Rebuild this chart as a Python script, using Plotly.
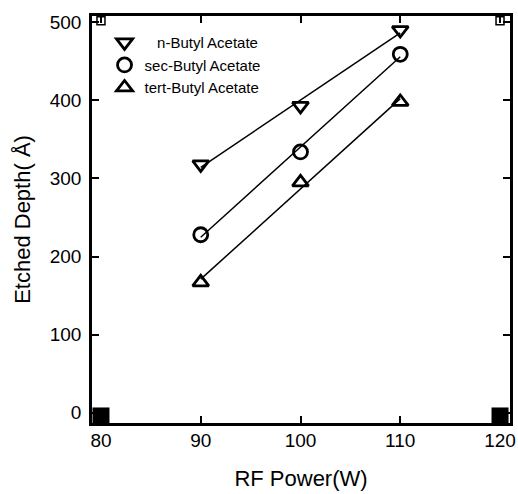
import numpy as np
import plotly.graph_objects as go

# Data
rf_power = [90, 100, 110]
n_butyl = [318, 393, 490]
sec_butyl = [228, 334, 459]
tert_butyl = [167, 295, 398]

series_names = ["   n-Butyl Acetate", "sec-Butyl Acetate", "tert-Butyl Acetate"]
series_symbols = ["triangle-down-open", "circle-open", "triangle-up-open"]

# corner markers present in the original graph
corner_x_filled = [80, 120]
corner_y_filled = [-4, -4]
corner_x_open = [80, 120]
corner_y_open = [502, 502]

x_ticks = [80, 90, 100, 110, 120]
y_ticks = [0, 100, 200, 300, 400, 500]

fig = go.Figure()

font_family = "Liberation Sans, Arial, sans-serif"

for name, vals, sym in zip(series_names, [n_butyl, sec_butyl, tert_butyl], series_symbols):
    coef = np.polyfit(rf_power, vals, 1)
    fit_x = [rf_power[0], rf_power[-1]]
    fit_y = [float(np.polyval(coef, v)) for v in fit_x]
    fig.add_trace(go.Scatter(x=fit_x, y=fit_y, mode="lines",
                             line=dict(color="black", width=1.5),
                             showlegend=False, hoverinfo="skip"))
    fig.add_trace(go.Scatter(x=rf_power, y=vals, mode="markers", name=name,
                             marker=dict(symbol=sym, size=14, color="black",
                                         line=dict(color="black", width=2.8))))

fig.add_trace(go.Scatter(x=corner_x_filled, y=corner_y_filled, mode="markers",
                         marker=dict(symbol="square", size=17, color="black"),
                         showlegend=False, hoverinfo="skip", cliponaxis=False))
fig.add_trace(go.Scatter(x=corner_x_open, y=corner_y_open, mode="markers",
                         marker=dict(symbol="square-open", size=8, color="black",
                                     line=dict(width=1.5, color="black")),
                         showlegend=False, hoverinfo="skip", cliponaxis=False))

axis_common = dict(showline=True, linecolor="black", linewidth=2.5, mirror="ticks",
                   ticks="inside", ticklen=7, tickwidth=2, tickcolor="black",
                   showgrid=False, zeroline=False, automargin=False,
                   tickfont=dict(family=font_family, size=19, color="black"))

fig.update_xaxes(range=[79.1, 121.0], tickvals=x_ticks,
                 title=dict(text="RF Power(W)", font=dict(family=font_family, size=22, color="black"),
                            standoff=22),
                 **axis_common)
fig.update_yaxes(range=[-13, 508], tickvals=y_ticks,
                 title=dict(text="Etched Depth( Å)", font=dict(family=font_family, size=22, color="black"),
                            standoff=14),
                 **axis_common)

try:
    fig.update_xaxes(ticklabelstandoff=-2, ticklabeloverflow="allow")
except Exception:
    pass
try:
    fig.update_yaxes(ticklabelstandoff=4)
except Exception:
    pass

fig.update_layout(
    width=518, height=494,
    margin=dict(l=92, r=8, t=16, b=71, autoexpand=False),
    plot_bgcolor="white", paper_bgcolor="white",
    legend=dict(x=0.03, y=0.975, xanchor="left", yanchor="top",
                bgcolor="rgba(0,0,0,0)", font=dict(family=font_family, size=15, color="black"),
                itemwidth=30, tracegroupgap=4),
    font=dict(family=font_family, color="black"),
)

fig.write_html("out.html", config={"displayModeBar": False},
               post_script="document.body.style.margin='0';")
